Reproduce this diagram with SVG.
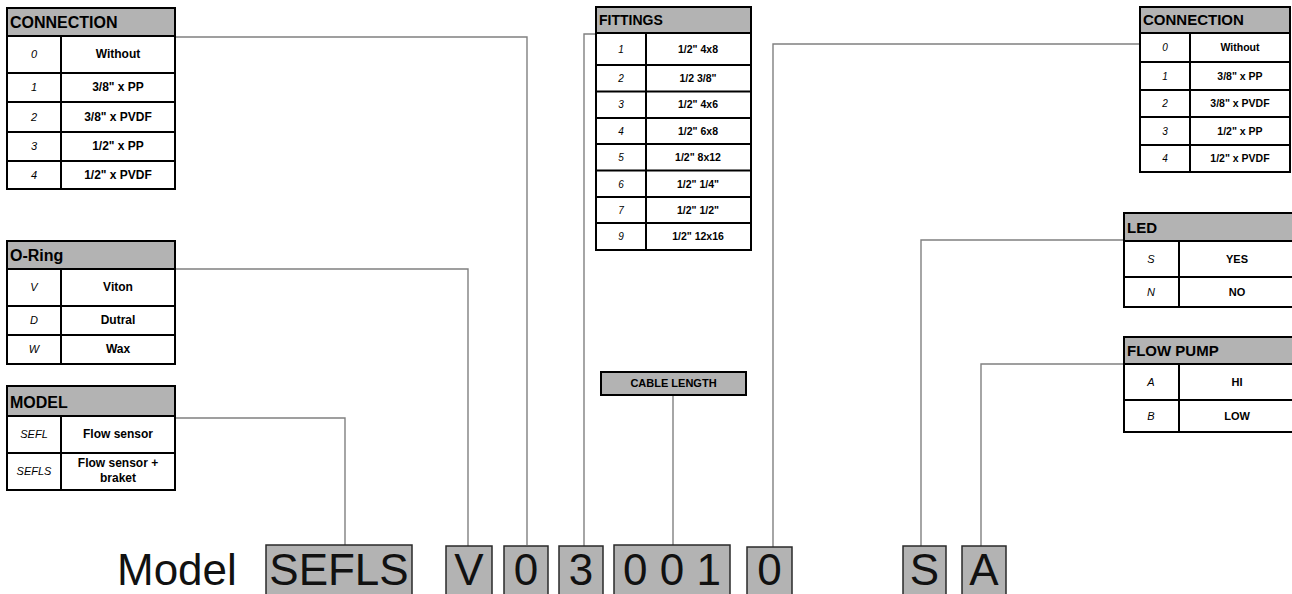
<svg xmlns="http://www.w3.org/2000/svg" width="1292" height="594" viewBox="0 0 1292 594">
<style>
.hdr{fill:#b3b3b3;stroke:#000;stroke-width:2}
.body{fill:#fff;stroke:#000;stroke-width:2}
.ln{stroke:#000;stroke-width:2;fill:none}
.ht{font-family:"Liberation Sans",Arial,sans-serif;font-weight:bold;fill:#000}
.code{font-family:"Liberation Sans",Arial,sans-serif;font-style:italic;font-size:11px;fill:#000;text-anchor:middle}
.val{font-family:"Liberation Sans",Arial,sans-serif;font-weight:bold;font-size:11px;fill:#000;text-anchor:middle}
.lg .val{font-size:12px}
.sm .code{font-size:10px}
.sm .val{font-size:10.5px}
.conn{stroke:#808080;stroke-width:1.4;fill:none}
.box{fill:#b3b3b3;stroke:#2a2a2a;stroke-width:1.5}
.big{font-family:"Liberation Sans",Arial,sans-serif;font-size:44px;fill:#111;text-anchor:middle}
</style>

<g id="connectors">
<path class="conn" d="M175,37 H527 V545"/>
<path class="conn" d="M175,269 H468 V546"/>
<path class="conn" d="M175,418 H345 V545"/>
<path class="conn" d="M596,34 H584 V546"/>
<path class="conn" d="M673,395 V545"/>
<path class="conn" d="M1140,44 H773 V547"/>
<path class="conn" d="M1124,240 H921 V546"/>
<path class="conn" d="M1124,364 H981 V546"/>
</g>

<g id="connection-left" class="lg">
<rect class="hdr" x="7" y="8" width="168" height="28"/>
<rect class="body" x="7" y="36" width="168" height="153"/>
<path class="ln" d="M61,36 V189 M7,73 H175 M7,102 H175 M7,132 H175 M7,161 H175"/>
<text class="ht" x="10" y="28" font-size="16">CONNECTION</text>
<text class="code" x="34" y="58">0</text><text class="val" x="118" y="58">Without</text>
<text class="code" x="34" y="91">1</text><text class="val" x="118" y="91">3/8" x PP</text>
<text class="code" x="34" y="121">2</text><text class="val" x="118" y="121">3/8" x PVDF</text>
<text class="code" x="34" y="150">3</text><text class="val" x="118" y="150">1/2" x PP</text>
<text class="code" x="34" y="179">4</text><text class="val" x="118" y="179">1/2" x PVDF</text>
</g>

<g id="oring" class="lg">
<rect class="hdr" x="7" y="241" width="168" height="28"/>
<rect class="body" x="7" y="269" width="168" height="95"/>
<path class="ln" d="M61,269 V364 M7,306 H175 M7,335 H175"/>
<text class="ht" x="10" y="261" font-size="16">O-Ring</text>
<text class="code" x="34" y="291">V</text><text class="val" x="118" y="291">Viton</text>
<text class="code" x="34" y="324">D</text><text class="val" x="118" y="324">Dutral</text>
<text class="code" x="34" y="353">W</text><text class="val" x="118" y="353">Wax</text>
</g>

<g id="model" class="lg">
<rect class="hdr" x="7" y="386" width="168" height="30"/>
<rect class="body" x="7" y="416" width="168" height="74"/>
<path class="ln" d="M61,416 V490 M7,453 H175"/>
<text class="ht" x="10" y="408" font-size="16">MODEL</text>
<text class="code" x="34" y="438">SEFL</text><text class="val" x="118" y="438">Flow sensor</text>
<text class="code" x="34" y="475">SEFLS</text><text class="val" x="118" y="467">Flow sensor +</text><text class="val" x="118" y="482">braket</text>
</g>

<g id="fittings" class="sm">
<rect class="hdr" x="596" y="7" width="155" height="26"/>
<rect class="body" x="596" y="33" width="155" height="217"/>
<path class="ln" d="M646,33 V250 M596,65 H751 M596,91.5 H751 M596,118 H751 M596,144 H751 M596,170.5 H751 M596,197 H751 M596,223 H751"/>
<text class="ht" x="599" y="25" font-size="14">FITTINGS</text>
<text class="code" x="621" y="52.5">1</text><text class="val" x="698" y="52.5">1/2" 4x8</text>
<text class="code" x="621" y="81.5">2</text><text class="val" x="698" y="81.5">1/2 3/8"</text>
<text class="code" x="621" y="108">3</text><text class="val" x="698" y="108">1/2" 4x6</text>
<text class="code" x="621" y="134.5">4</text><text class="val" x="698" y="134.5">1/2" 6x8</text>
<text class="code" x="621" y="160.5">5</text><text class="val" x="698" y="160.5">1/2" 8x12</text>
<text class="code" x="621" y="187.5">6</text><text class="val" x="698" y="187.5">1/2" 1/4"</text>
<text class="code" x="621" y="213.5">7</text><text class="val" x="698" y="213.5">1/2" 1/2"</text>
<text class="code" x="621" y="240">9</text><text class="val" x="698" y="240">1/2" 12x16</text>
</g>

<g id="connection-right" class="sm">
<rect class="hdr" x="1140" y="7" width="150" height="26"/>
<rect class="body" x="1140" y="33" width="150" height="139"/>
<path class="ln" d="M1190,33 V172 M1140,62 H1290 M1140,90 H1290 M1140,117 H1290 M1140,145 H1290"/>
<text class="ht" x="1143" y="25" font-size="15">CONNECTION</text>
<text class="code" x="1165" y="51">0</text><text class="val" x="1240" y="51">Without</text>
<text class="code" x="1165" y="79.5">1</text><text class="val" x="1240" y="79.5">3/8" x PP</text>
<text class="code" x="1165" y="107">2</text><text class="val" x="1240" y="107">3/8" x PVDF</text>
<text class="code" x="1165" y="134.5">3</text><text class="val" x="1240" y="134.5">1/2" x PP</text>
<text class="code" x="1165" y="162">4</text><text class="val" x="1240" y="162">1/2" x PVDF</text>
</g>

<g id="led">
<rect class="hdr" x="1124" y="213" width="172" height="28"/>
<rect class="body" x="1124" y="241" width="172" height="66"/>
<path class="ln" d="M1179,241 V307 M1124,277 H1296"/>
<text class="ht" x="1127" y="233" font-size="15">LED</text>
<text class="code" x="1151" y="263">S</text><text class="val" x="1237" y="263">YES</text>
<text class="code" x="1151" y="296">N</text><text class="val" x="1237" y="296">NO</text>
</g>

<g id="flowpump">
<rect class="hdr" x="1124" y="337" width="172" height="27"/>
<rect class="body" x="1124" y="364" width="172" height="68"/>
<path class="ln" d="M1179,364 V432 M1124,400 H1296"/>
<text class="ht" x="1127" y="356" font-size="15">FLOW PUMP</text>
<text class="code" x="1151" y="386">A</text><text class="val" x="1237" y="386">HI</text>
<text class="code" x="1151" y="420">B</text><text class="val" x="1237" y="420">LOW</text>
</g>

<g id="cable-length">
<rect class="hdr" x="601" y="372" width="145" height="23"/>
<text class="val" x="673.5" y="387" font-size="10">CABLE LENGTH</text>
</g>

<g id="code-line">
<text x="117" y="585" font-family="'Liberation Sans',Arial,sans-serif" font-size="44" fill="#111">Model</text>
<g id="b-sefls"><rect class="box" x="266" y="545" width="146" height="60"/><text class="big" x="339" y="585">SEFLS</text></g>
<g id="b-v"><rect class="box" x="446" y="546" width="46" height="60"/><text class="big" x="469" y="585">V</text></g>
<g id="b-0a"><rect class="box" x="504" y="546" width="44" height="60"/><text class="big" x="526" y="585">0</text></g>
<g id="b-3"><rect class="box" x="559" y="546" width="44" height="60"/><text class="big" x="581" y="585">3</text></g>
<g id="b-001"><rect class="box" x="614" y="545" width="116" height="60"/><text class="big" x="672" y="585" xml:space="preserve">0 0 1</text></g>
<g id="b-0b"><rect class="box" x="747" y="547" width="45" height="60"/><text class="big" x="769.5" y="585">0</text></g>
<g id="b-s"><rect class="box" x="903" y="546" width="43" height="60"/><text class="big" x="924.5" y="585">S</text></g>
<g id="b-a"><rect class="box" x="962" y="546" width="44" height="60"/><text class="big" x="984" y="585">A</text></g>
</g>
</svg>
